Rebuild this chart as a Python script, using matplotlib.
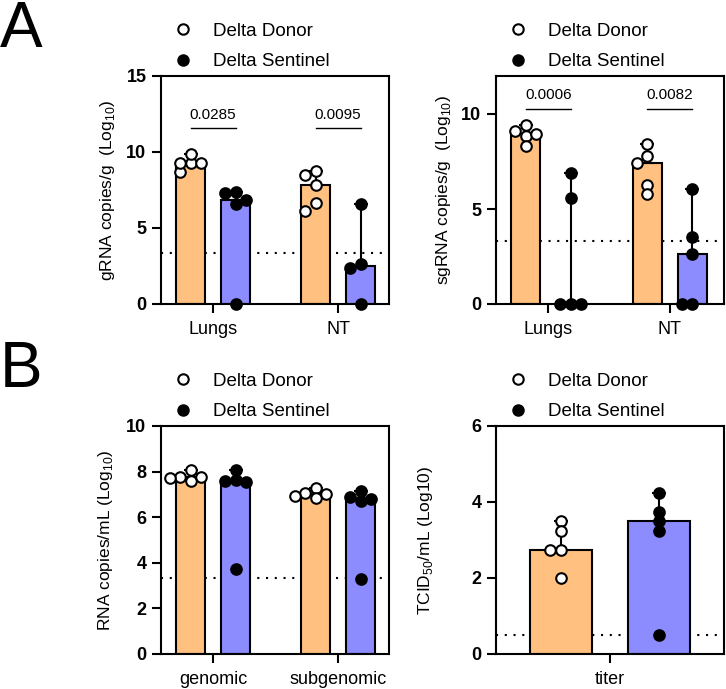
import matplotlib
matplotlib.use("Agg")
import matplotlib.pyplot as plt
from matplotlib.lines import Line2D
import numpy as np

plt.rcParams['font.family'] = ['Liberation Sans', 'DejaVu Sans']
plt.rcParams['mathtext.fontset'] = 'custom'
plt.rcParams['mathtext.rm'] = 'Liberation Sans'
plt.rcParams['axes.linewidth'] = 1.5

# ---- data (log10 values) ----
tissues = ['Lungs', 'NT']
grna_donor = [[8.7, 9.3, 9.25, 9.85, 9.3], [8.77, 8.49, 7.83, 6.67, 6.12]]
grna_sentinel = [[7.35, 7.3, 6.6, 6.85, 0.0], [6.55, 2.63, 2.35, 0.0]]
grna_p = ['0.0285', '0.0095']

sgrna_donor = [[9.12, 9.4, 8.85, 8.95, 8.3], [8.42, 7.79, 7.4, 6.26, 5.79]]
sgrna_sentinel = [[6.88, 5.6, 0.0, 0.0, 0.0], [6.05, 3.5, 2.63, 0.0, 0.0]]
sgrna_p = ['0.0006', '0.0082']

rna_types = ['genomic', 'subgenomic']
rna_donor = [[8.05, 7.6, 7.75, 7.78, 7.7], [7.3, 6.85, 7.05, 7.02, 6.95]]
rna_sentinel = [[8.07, 7.65, 7.6, 7.55, 3.72], [6.9, 6.72, 7.15, 6.78, 3.3]]

titer_cat = ['titer']
titer_donor = [[3.49, 3.25, 2.75, 2.75, 2.0]]
titer_sentinel = [[4.25, 3.75, 3.49, 3.25, 0.5]]

lod_rna = 3.33
lod_titer = 0.5

C_DONOR = '#FFC080'
C_SENT = '#8C8CFF'

fig = plt.figure(figsize=(7.26, 6.89), dpi=100)
W, H = 726, 689


def px_axes(l, t, r, b):
    return fig.add_axes([l / W, 1 - b / H, (r - l) / W, (b - t) / H])


def swarm(ax, xc, vals, d=10.5):
    # simple beeswarm in pixel space
    pts = ax.transData.transform(np.column_stack([np.full(len(vals), xc), vals]))
    order = np.argsort(-np.asarray(vals), kind='stable')
    placed = {}
    for i in order:
        px, py = pts[i]
        for k in [0, -1, 1, -2, 2, -3, 3]:
            cx = px + k * d
            if all((cx - qx) ** 2 + (py - qy) ** 2 >= (d * 0.85) ** 2 for qx, qy in placed.values()):
                break
        placed[i] = (cx, py)
    arr = np.array([placed[i] for i in range(len(vals))])
    return ax.transData.inverted().transform(arr)[:, 0]


def panel(ax, cats, donor, sentinel, lod, ylim, yticks, off, width, xlim):
    ax.set_xlim(*xlim)
    ax.set_ylim(*ylim)
    ax.axhline(lod, color='black', lw=1.5, ls=(0, (1, 3.2)), zorder=0)
    x = np.arange(len(cats))
    for grp, xs_off, col, face in [(donor, -off, C_DONOR, 'white'), (sentinel, off, C_SENT, 'black')]:
        for i, vals in enumerate(grp):
            med = np.median(vals)
            top = np.max(vals)
            xc = x[i] + xs_off
            ax.bar(xc, med, width=width, color=col, edgecolor='black', linewidth=1.5, zorder=2)
            ax.errorbar(xc, med, yerr=[[0], [top - med]], color='black', lw=1.5,
                        capsize=5, capthick=1.5, zorder=3)
            px = swarm(ax, xc, vals)
            ax.scatter(px, vals, s=58, facecolor=face, edgecolor='black',
                       linewidth=1.5, zorder=4, clip_on=False)
    ax.set_xticks(x)
    ax.set_xticklabels(cats, fontsize=13)
    ax.set_yticks(yticks)
    ax.set_yticklabels([str(t) for t in yticks], fontsize=13, fontweight='bold')
    ax.tick_params(axis='both', length=6.5, width=1.5, pad=4)
    ax.tick_params(axis='x', pad=6)
    handles = [Line2D([], [], marker='o', ls='', mfc='white', mec='black', mew=1.5, ms=7.5),
               Line2D([], [], marker='o', ls='', mfc='black', mec='black', mew=1.5, ms=7.5)]
    ax.legend(handles, ['Delta Donor', 'Delta Sentinel'], loc='center left',
              bbox_to_anchor=(0.055, 1.13), frameon=False, fontsize=13.5,
              borderpad=0, borderaxespad=0, handlelength=1.0, handletextpad=1.1,
              labelspacing=0.72)


def brackets(ax, pvals, y, off):
    for i, p in enumerate(pvals):
        ax.plot([i - off, i + off], [y, y], color='black', lw=1.0)
        ax.text(i, y + 0.4, p, ha='center', va='bottom', fontsize=11)


# A left: gRNA
ax1 = px_axes(161, 76, 389, 304)
panel(ax1, tissues, grna_donor, grna_sentinel, lod_rna, (0, 15), [0, 5, 10, 15], 0.18, 0.235, (-0.416, 1.408))
brackets(ax1, grna_p, 11.6, 0.18)
ax1.set_ylabel(r'gRNA copies/g  (Log$_{\mathrm{10}}$)', fontsize=12.5, labelpad=7)

# A right: sgRNA
ax2 = px_axes(496, 76, 724, 304)
panel(ax2, tissues, sgrna_donor, sgrna_sentinel, lod_rna, (0, 12), [0, 5, 10], 0.185, 0.24, (-0.43, 1.445))
brackets(ax2, sgrna_p, 10.25, 0.185)
ax2.set_ylabel(r'sgRNA copies/g  (Log$_{\mathrm{10}}$)', fontsize=12.5, labelpad=6)

# B left: RNA copies
ax3 = px_axes(161, 426, 389, 654)
panel(ax3, rna_types, rna_donor, rna_sentinel, lod_rna, (0, 10), [0, 2, 4, 6, 8, 10], 0.18, 0.235, (-0.416, 1.408))
ax3.set_ylabel(r'RNA copies/mL (Log$_{\mathrm{10}}$)', fontsize=12.5, labelpad=8)

# B right: titer
ax4 = px_axes(496, 426, 724, 654)
panel(ax4, titer_cat, titer_donor, titer_sentinel, lod_titer, (0, 6), [0, 2, 4, 6], 0.43, 0.55, (-1.0, 1.0))
ax4.set_ylabel(r'TCID$_{\mathrm{50}}$/mL (Log10)', fontsize=12.5, labelpad=26)

fig.text(0.0, 1.0, 'A', fontsize=46, va='top', ha='left')
fig.text(0.0, 1 - 340 / H, 'B', fontsize=46, va='top', ha='left')

fig.savefig('out.png', dpi=100)
